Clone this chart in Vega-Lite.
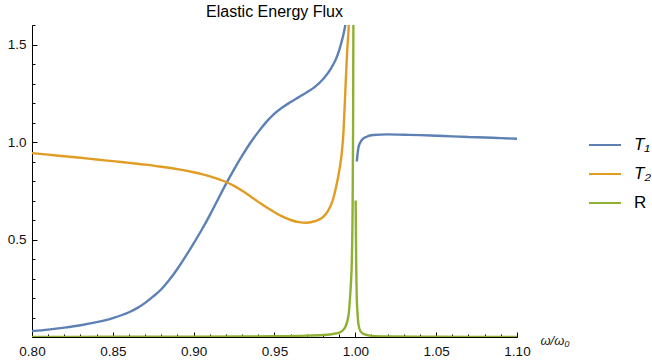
{
  "$schema": "https://vega.github.io/schema/vega-lite/v6.json",
  "width": 485,
  "height": 312,
  "autosize": {"type": "none"},
  "padding": {"left": 32, "top": 25, "right": 135, "bottom": 27},
  "background": "white",
  "config": {"view": {"stroke": null}, "font": "Liberation Sans"},
  "title": {"text": "Elastic Energy Flux", "fontSize": 16, "font": "Liberation Sans", "fontWeight": "normal", "color": "#000", "anchor": "middle", "baseline": "alphabetic", "offset": -15},
  "data": {"values": [
    {"x":0.80,"y":0.030,"s":"T₁","g":"b1"},{"x":0.81,"y":0.038,"s":"T₁","g":"b1"},{"x":0.82,"y":0.048,"s":"T₁","g":"b1"},{"x":0.83,"y":0.060,"s":"T₁","g":"b1"},{"x":0.84,"y":0.076,"s":"T₁","g":"b1"},{"x":0.85,"y":0.097,"s":"T₁","g":"b1"},{"x":0.86,"y":0.127,"s":"T₁","g":"b1"},{"x":0.865,"y":0.148,"s":"T₁","g":"b1"},{"x":0.87,"y":0.175,"s":"T₁","g":"b1"},{"x":0.875,"y":0.208,"s":"T₁","g":"b1"},{"x":0.88,"y":0.245,"s":"T₁","g":"b1"},{"x":0.885,"y":0.293,"s":"T₁","g":"b1"},{"x":0.89,"y":0.350,"s":"T₁","g":"b1"},{"x":0.895,"y":0.413,"s":"T₁","g":"b1"},{"x":0.90,"y":0.480,"s":"T₁","g":"b1"},{"x":0.905,"y":0.550,"s":"T₁","g":"b1"},{"x":0.91,"y":0.625,"s":"T₁","g":"b1"},{"x":0.915,"y":0.705,"s":"T₁","g":"b1"},{"x":0.92,"y":0.785,"s":"T₁","g":"b1"},{"x":0.925,"y":0.860,"s":"T₁","g":"b1"},{"x":0.93,"y":0.930,"s":"T₁","g":"b1"},{"x":0.935,"y":0.995,"s":"T₁","g":"b1"},{"x":0.94,"y":1.052,"s":"T₁","g":"b1"},{"x":0.945,"y":1.103,"s":"T₁","g":"b1"},{"x":0.95,"y":1.145,"s":"T₁","g":"b1"},{"x":0.955,"y":1.178,"s":"T₁","g":"b1"},{"x":0.96,"y":1.205,"s":"T₁","g":"b1"},{"x":0.965,"y":1.230,"s":"T₁","g":"b1"},{"x":0.97,"y":1.255,"s":"T₁","g":"b1"},{"x":0.975,"y":1.283,"s":"T₁","g":"b1"},{"x":0.98,"y":1.322,"s":"T₁","g":"b1"},{"x":0.985,"y":1.378,"s":"T₁","g":"b1"},{"x":0.988,"y":1.425,"s":"T₁","g":"b1"},{"x":0.990,"y":1.470,"s":"T₁","g":"b1"},{"x":0.992,"y":1.530,"s":"T₁","g":"b1"},{"x":0.993,"y":1.565,"s":"T₁","g":"b1"},{"x":0.994,"y":1.610,"s":"T₁","g":"b1"},{"x":0.996,"y":1.750,"s":"T₁","g":"b1"},
    {"x":1.0009,"y":0.900,"s":"T₁","g":"b2"},{"x":1.002,"y":0.975,"s":"T₁","g":"b2"},{"x":1.004,"y":1.010,"s":"T₁","g":"b2"},{"x":1.007,"y":1.027,"s":"T₁","g":"b2"},{"x":1.011,"y":1.036,"s":"T₁","g":"b2"},{"x":1.02,"y":1.039,"s":"T₁","g":"b2"},{"x":1.03,"y":1.037,"s":"T₁","g":"b2"},{"x":1.04,"y":1.035,"s":"T₁","g":"b2"},{"x":1.05,"y":1.032,"s":"T₁","g":"b2"},{"x":1.06,"y":1.029,"s":"T₁","g":"b2"},{"x":1.07,"y":1.026,"s":"T₁","g":"b2"},{"x":1.08,"y":1.023,"s":"T₁","g":"b2"},{"x":1.09,"y":1.020,"s":"T₁","g":"b2"},{"x":1.10,"y":1.017,"s":"T₁","g":"b2"},
    {"x":0.80,"y":0.943,"s":"T₂","g":"o"},{"x":0.81,"y":0.935,"s":"T₂","g":"o"},{"x":0.82,"y":0.927,"s":"T₂","g":"o"},{"x":0.83,"y":0.919,"s":"T₂","g":"o"},{"x":0.84,"y":0.910,"s":"T₂","g":"o"},{"x":0.85,"y":0.902,"s":"T₂","g":"o"},{"x":0.86,"y":0.893,"s":"T₂","g":"o"},{"x":0.87,"y":0.884,"s":"T₂","g":"o"},{"x":0.88,"y":0.873,"s":"T₂","g":"o"},{"x":0.89,"y":0.861,"s":"T₂","g":"o"},{"x":0.90,"y":0.845,"s":"T₂","g":"o"},{"x":0.91,"y":0.824,"s":"T₂","g":"o"},{"x":0.92,"y":0.795,"s":"T₂","g":"o"},{"x":0.925,"y":0.775,"s":"T₂","g":"o"},{"x":0.93,"y":0.750,"s":"T₂","g":"o"},{"x":0.935,"y":0.722,"s":"T₂","g":"o"},{"x":0.94,"y":0.693,"s":"T₂","g":"o"},{"x":0.945,"y":0.665,"s":"T₂","g":"o"},{"x":0.95,"y":0.640,"s":"T₂","g":"o"},{"x":0.955,"y":0.617,"s":"T₂","g":"o"},{"x":0.96,"y":0.600,"s":"T₂","g":"o"},{"x":0.965,"y":0.589,"s":"T₂","g":"o"},{"x":0.97,"y":0.586,"s":"T₂","g":"o"},{"x":0.975,"y":0.594,"s":"T₂","g":"o"},{"x":0.98,"y":0.615,"s":"T₂","g":"o"},{"x":0.983,"y":0.645,"s":"T₂","g":"o"},{"x":0.986,"y":0.700,"s":"T₂","g":"o"},{"x":0.988,"y":0.765,"s":"T₂","g":"o"},{"x":0.990,"y":0.850,"s":"T₂","g":"o"},{"x":0.9915,"y":0.935,"s":"T₂","g":"o"},{"x":0.9925,"y":1.030,"s":"T₂","g":"o"},{"x":0.9935,"y":1.200,"s":"T₂","g":"o"},{"x":0.9949,"y":1.460,"s":"T₂","g":"o"},{"x":0.996,"y":1.610,"s":"T₂","g":"o"},{"x":0.997,"y":1.900,"s":"T₂","g":"o"},
    {"x":0.80,"y":0.000,"s":"R","g":"r1"},{"x":0.85,"y":0.001,"s":"R","g":"r1"},{"x":0.90,"y":0.002,"s":"R","g":"r1"},{"x":0.93,"y":0.003,"s":"R","g":"r1"},{"x":0.95,"y":0.004,"s":"R","g":"r1"},{"x":0.97,"y":0.007,"s":"R","g":"r1"},{"x":0.98,"y":0.010,"s":"R","g":"r1"},{"x":0.985,"y":0.014,"s":"R","g":"r1"},{"x":0.99,"y":0.022,"s":"R","g":"r1"},{"x":0.992,"y":0.032,"s":"R","g":"r1"},{"x":0.994,"y":0.055,"s":"R","g":"r1"},{"x":0.995,"y":0.080,"s":"R","g":"r1"},{"x":0.996,"y":0.125,"s":"R","g":"r1"},{"x":0.9967,"y":0.200,"s":"R","g":"r1"},{"x":0.9973,"y":0.280,"s":"R","g":"r1"},{"x":0.9978,"y":0.380,"s":"R","g":"r1"},{"x":0.9983,"y":0.650,"s":"R","g":"r1"},{"x":0.9986,"y":1.050,"s":"R","g":"r1"},{"x":0.9988,"y":1.600,"s":"R","g":"r1"},{"x":0.999,"y":2.400,"s":"R","g":"r1"},
    {"x":1.0002,"y":0.700,"s":"R","g":"r2"},{"x":1.0005,"y":0.400,"s":"R","g":"r2"},{"x":1.0009,"y":0.200,"s":"R","g":"r2"},{"x":1.0013,"y":0.130,"s":"R","g":"r2"},{"x":1.0019,"y":0.067,"s":"R","g":"r2"},{"x":1.003,"y":0.032,"s":"R","g":"r2"},{"x":1.005,"y":0.016,"s":"R","g":"r2"},{"x":1.01,"y":0.006,"s":"R","g":"r2"},{"x":1.02,"y":0.003,"s":"R","g":"r2"},{"x":1.05,"y":0.001,"s":"R","g":"r2"},{"x":1.10,"y":0.000,"s":"R","g":"r2"}
  ]},
  "mark": {"type": "line", "clip": true, "strokeWidth": 2.4, "interpolate": "monotone"},
  "encoding": {
    "x": {"field": "x", "type": "quantitative",
      "scale": {"domain": [0.8, 1.1], "nice": false, "zero": false},
      "axis": {
        "values": [0.80,0.81,0.82,0.83,0.84,0.85,0.86,0.87,0.88,0.89,0.90,0.91,0.92,0.93,0.94,0.95,0.96,0.97,0.98,0.99,1.00,1.01,1.02,1.03,1.04,1.05,1.06,1.07,1.08,1.09,1.10],
        "labelExpr": "abs(round(datum.value*100) % 5) == 0 ? format(datum.value, '.2f') : ''",
        "tickSize": {"condition": {"test": "abs(round(datum.value*100) % 5) == 0", "value": -5}, "value": -3},
        "tickColor": "#000", "domainColor": "#000", "grid": false,
        "labelFont": "Liberation Sans", "labelFontSize": 13.5, "labelColor": "#111", "labelPadding": 12, "labelFlush": false, "labelOverlap": false,
        "title": "ω/ω₀", "titleFont": "Liberation Sans", "titleFontSize": 13, "titleFontStyle": "italic", "titleFontWeight": "normal", "titleColor": "#222",
        "titleX": 508, "titleY": 7, "titleAlign": "left", "titleBaseline": "alphabetic"
      }},
    "y": {"field": "y", "type": "quantitative",
      "scale": {"domain": [0, 1.6], "nice": false, "zero": false},
      "axis": {
        "values": [0.1,0.2,0.3,0.4,0.5,0.6,0.7,0.8,0.9,1.0,1.1,1.2,1.3,1.4,1.5,1.6],
        "labelExpr": "abs(round(datum.value*10) % 5) == 0 ? format(datum.value, '.1f') : ''",
        "tickSize": {"condition": {"test": "abs(round(datum.value*10) % 5) == 0", "value": -5}, "value": -3},
        "tickColor": "#000", "domainColor": "#000", "grid": false,
        "labelFont": "Liberation Sans", "labelFontSize": 13.5, "labelColor": "#111", "labelPadding": 11, "labelFlush": false, "labelOverlap": false,
        "title": null
      }},
    "color": {"field": "s", "type": "nominal",
      "scale": {"domain": ["T₁", "T₂", "R"], "range": ["#5E81B5", "#E19C24", "#8FB032"]},
      "legend": {
        "orient": "none", "legendX": 556, "legendY": 103, "title": null, "padding": 0,
        "symbolType": "stroke", "symbolSize": 1024, "symbolStrokeWidth": 2,
        "labelFont": "Liberation Sans", "labelFontSize": 17, "labelColor": "#000", "labelOffset": 12, "rowPadding": 4,
        "encode": {"labels": {"update": {"fontStyle": {"signal": "datum.label == 'R' ? 'normal' : 'italic'"}}}}
      }},
    "detail": {"field": "g", "type": "nominal"},
    "order": {"field": "x", "type": "quantitative"}
  }
}
